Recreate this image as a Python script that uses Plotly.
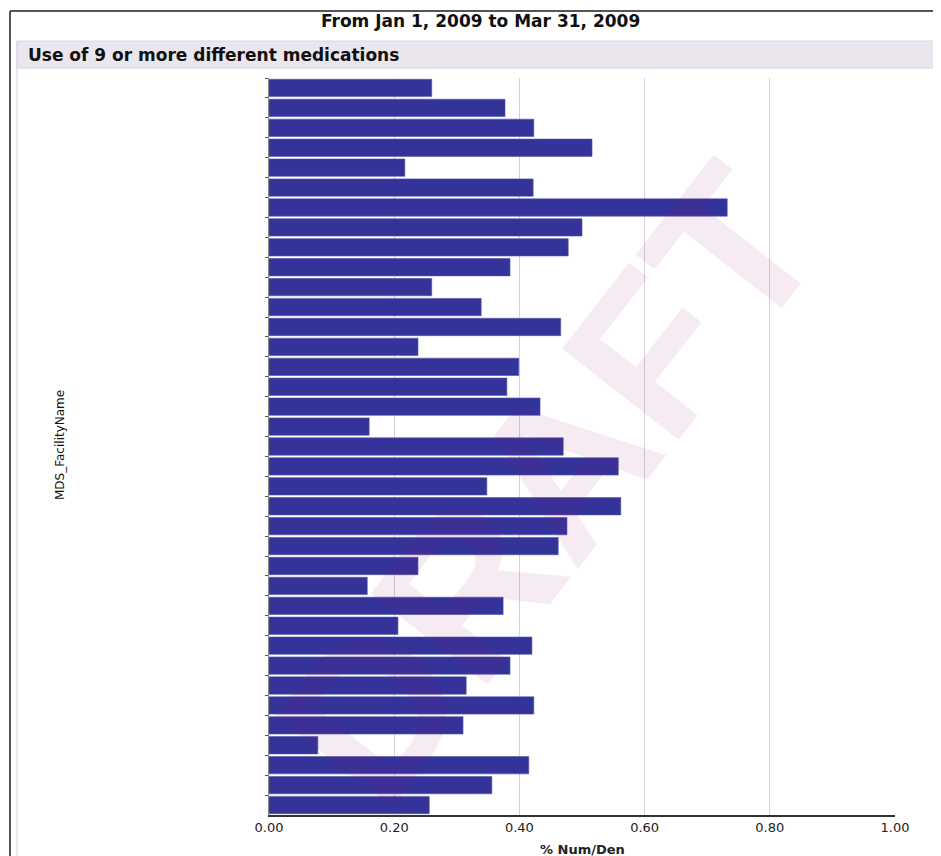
import plotly.graph_objects as go

# ---- data ----
facilities = [f"Facility {i}" for i in range(1, 38)]
pct_num_den = [0.260, 0.377, 0.423, 0.516, 0.217, 0.422, 0.732, 0.500, 0.478, 0.385,
               0.260, 0.339, 0.466, 0.238, 0.399, 0.380, 0.433, 0.160, 0.470, 0.558,
               0.348, 0.562, 0.476, 0.462, 0.238, 0.157, 0.374, 0.206, 0.420, 0.385,
               0.315, 0.423, 0.310, 0.078, 0.415, 0.356, 0.256]
x_ticks = [0.0, 0.2, 0.4, 0.6, 0.8, 1.0]
x_tick_labels = ["0.00", "0.20", "0.40", "0.60", "0.80", "1.00"]

date_title = "From Jan 1, 2009 to Mar 31, 2009"
panel_title = "Use of 9 or more different medications"
y_title = "MDS_FacilityName"
x_title = "% Num/Den"

OFF = 8  # page body margin
W, H = 941 - OFF, 856 - OFF
ML, MR, MT, MB = 269 - OFF, 46, 78 - OFF, 41
PW, PH = W - ML - MR, H - MT - MB


def px(X):
    """reference page pixel x -> paper fraction"""
    return (X - OFF - ML) / PW


def py(Y):
    """reference page pixel y -> paper fraction"""
    return (H - MB - (Y - OFF)) / PH


FONT = "DejaVu Sans"

fig = go.Figure()
fig.add_trace(go.Bar(
    y=facilities, x=pct_num_den, orientation="h",
    marker=dict(color="#333399", line=dict(color="#5555aa", width=0.6)),
    hoverinfo="x+y",
))

fig.update_layout(
    width=W, height=H,
    margin=dict(l=ML, r=MR, t=MT, b=MB, pad=0),
    paper_bgcolor="white", plot_bgcolor="white",
    bargap=0.13,
    showlegend=False,
    font=dict(family=FONT, size=12, color="#222222"),
    xaxis=dict(range=[0, 1.0], tickvals=x_ticks, ticktext=x_tick_labels,
               showgrid=True, gridcolor="#d6d0da", gridwidth=1,
               showline=True, linecolor="#333333", linewidth=1.5,
               zeroline=False, ticks="", tickfont=dict(size=13, color="#222222"),
               fixedrange=True),
    yaxis=dict(autorange="reversed", showticklabels=False, showgrid=False,
               showline=True, linecolor="#888888", linewidth=1,
               ticks="outside", ticklen=3, tickcolor="#555555",
               tickson="boundaries", zeroline=False, fixedrange=True),
)

shapes = [
    # header band
    dict(type="rect", xref="paper", yref="paper",
         x0=px(17), x1=px(939), y0=py(68), y1=py(41),
         line=dict(color="#dcd6e0", width=1), fillcolor="#ebe6ee", layer="below"),
    # outer frame: top and left edges
    dict(type="line", xref="paper", yref="paper",
         x0=px(10), x1=px(941), y0=py(11), y1=py(11),
         line=dict(color="#555555", width=2), layer="below"),
    dict(type="line", xref="paper", yref="paper",
         x0=px(10), x1=px(10), y0=py(11), y1=py(856),
         line=dict(color="#555555", width=2), layer="below"),
    # inner panel: left and right edges
    dict(type="line", xref="paper", yref="paper",
         x0=px(17), x1=px(17), y0=py(41), y1=py(856),
         line=dict(color="#d8d2dc", width=1), layer="below"),
    dict(type="line", xref="paper", yref="paper",
         x0=px(939), x1=px(939), y0=py(41), y1=py(856),
         line=dict(color="#d8d2dc", width=1), layer="below"),
]
fig.update_layout(shapes=shapes)

annotations = [
    dict(text="<b>" + date_title + "</b>", xref="paper", yref="paper",
         x=px(480), y=py(21), xanchor="center", yanchor="middle",
         showarrow=False, font=dict(family=FONT, size=17, color="#111111")),
    dict(text="<b>" + panel_title + "</b>", xref="paper", yref="paper",
         x=px(26), y=py(55), xanchor="left", yanchor="middle",
         showarrow=False, font=dict(family=FONT, size=17, color="#111111")),
    dict(text=y_title, xref="paper", yref="paper", textangle=-90,
         x=px(60), y=py(445), xanchor="center", yanchor="middle",
         showarrow=False, font=dict(family=FONT, size=12, color="#111111")),
    dict(text="<b>" + x_title + "</b>", xref="paper", yref="paper",
         x=px(582), y=py(850), xanchor="center", yanchor="middle",
         showarrow=False, font=dict(family=FONT, size=13, color="#222222")),
    dict(text="<b>DRAFT</b>", xref="paper", yref="paper", textangle=-52,
         x=px(548), y=py(485), xanchor="center", yanchor="middle",
         showarrow=False,
         font=dict(family="Liberation Sans", size=215, color="rgba(160,20,120,0.09)")),
]
fig.update_layout(annotations=annotations)

fig.write_html("out.html")
